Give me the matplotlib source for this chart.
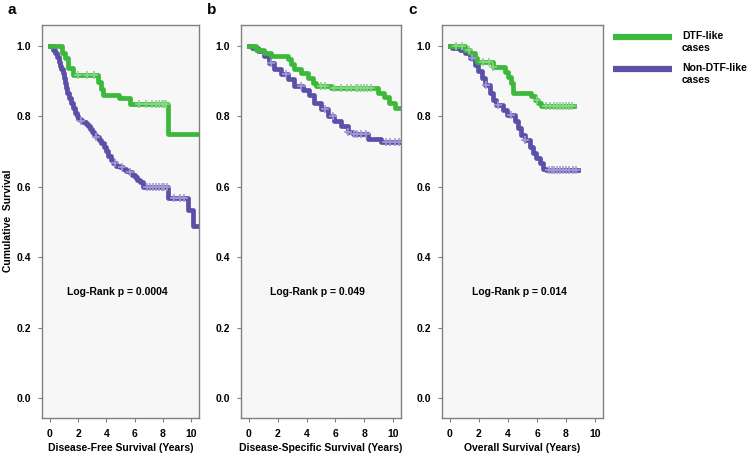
import numpy as np
import matplotlib
matplotlib.use('Agg')
import matplotlib.pyplot as plt
from matplotlib.lines import Line2D

plt.rcParams['font.family'] = ['Liberation Sans', 'DejaVu Sans']
plt.rcParams['font.weight'] = 'bold'

GREEN = '#3cb83a'
PURPLE = '#5a50a8'
GREEN_C = '#8ad48a'
PURPLE_C = '#a29ad4'

# panel a: disease-free survival
a_dtf_t = [0, 0.85, 1.06, 1.3, 1.65, 3.4, 3.62, 3.74, 4.92, 5.7, 8.35, 10.55]
a_dtf_s = [1.0, 0.981, 0.967, 0.939, 0.917, 0.897, 0.878, 0.861, 0.852, 0.836, 0.75, 0.75]
a_dtf_cens = [2.0, 2.6, 3.1, 6.3, 6.8, 7.2, 7.5, 7.7, 7.9, 8.1, 8.25]
a_non_t = [0, 0.26, 0.4, 0.5, 0.62, 0.73, 0.82, 0.9, 0.98, 1.06, 1.15, 1.25, 1.37, 1.49,
           1.63, 1.77, 1.9, 2.0, 2.2, 2.36, 2.55, 2.7, 2.85, 2.95, 3.1, 3.3, 3.45, 3.6,
           3.8, 4.0, 4.15, 4.3, 4.5, 4.7, 4.95, 5.2, 5.4, 5.6, 5.8, 6.0, 6.2, 6.4, 6.6,
           8.35, 9.76, 10.1, 10.55]
a_non_s = [1.0, 0.99, 0.98, 0.97, 0.956, 0.943, 0.934, 0.924, 0.91, 0.896, 0.882, 0.867,
           0.853, 0.839, 0.825, 0.811, 0.80, 0.792, 0.788, 0.785, 0.779, 0.773, 0.764,
           0.755, 0.748, 0.741, 0.733, 0.726, 0.714, 0.703, 0.689, 0.675, 0.667, 0.66,
           0.655, 0.651, 0.646, 0.641, 0.634, 0.627, 0.62, 0.613, 0.599, 0.569, 0.533,
           0.488, 0.488]
a_non_cens = [2.2, 3.3, 4.6, 5.1, 5.7, 6.9, 7.1, 7.3, 7.5, 7.7, 7.9, 8.1, 8.3, 8.8, 9.2, 9.5]

# panel b: disease-specific survival
b_dtf_t = [0, 0.49, 1.06, 1.53, 2.69, 2.92, 3.15, 3.61, 4.07, 4.42, 4.65, 5.69, 8.94,
           9.4, 9.75, 10.1, 10.55]
b_dtf_s = [1.0, 0.99, 0.981, 0.972, 0.962, 0.948, 0.934, 0.924, 0.91, 0.896, 0.887, 0.88,
           0.868, 0.854, 0.839, 0.825, 0.825]
b_dtf_cens = [5.0, 5.3, 5.9, 6.4, 6.8, 7.1, 7.4, 7.6, 7.8, 8.0, 8.2, 8.5]
b_non_t = [0, 0.2, 0.6, 1.06, 1.41, 1.76, 2.22, 2.69, 3.15, 3.73, 4.19, 4.54, 5.0, 5.46,
           5.93, 6.39, 6.85, 7.2, 8.24, 9.17, 10.55]
b_non_s = [1.0, 0.995, 0.986, 0.972, 0.953, 0.934, 0.92, 0.906, 0.887, 0.876, 0.861,
           0.839, 0.82, 0.801, 0.787, 0.773, 0.755, 0.75, 0.736, 0.728, 0.728]
b_non_cens = [1.5, 2.6, 3.6, 5.3, 5.8, 6.9, 7.3, 7.5, 7.8, 8.1, 9.5, 9.8, 10.1, 10.4]

# panel c: overall survival
c_dtf_t = [0, 1.05, 1.4, 1.74, 1.85, 3.0, 3.79, 4.0, 4.2, 4.35, 5.6, 5.85, 6.08, 6.25, 8.58]
c_dtf_s = [1.0, 0.99, 0.98, 0.966, 0.956, 0.941, 0.927, 0.912, 0.895, 0.867, 0.857,
           0.848, 0.838, 0.83, 0.83]
c_dtf_cens = [0.4, 0.8, 1.3, 2.3, 2.7, 3.0, 6.0, 6.6, 6.9, 7.2, 7.4, 7.6, 7.8, 8.0, 8.2, 8.4]
c_non_t = [0, 0.14, 0.71, 1.05, 1.4, 1.74, 1.96, 2.2, 2.42, 2.76, 2.99, 3.2, 3.68, 3.9,
           4.47, 4.7, 4.93, 5.16, 5.5, 5.73, 5.96, 6.19, 6.42, 6.64, 8.8]
c_non_s = [1.0, 0.995, 0.99, 0.98, 0.966, 0.947, 0.928, 0.909, 0.89, 0.867, 0.848, 0.833,
           0.819, 0.805, 0.786, 0.767, 0.748, 0.733, 0.714, 0.695, 0.681, 0.667, 0.652,
           0.647, 0.647]
c_non_cens = [1.5, 2.5, 3.3, 4.2, 5.2, 6.8, 7.0, 7.2, 7.4, 7.6, 7.8, 8.0, 8.2, 8.5, 8.7]

panel_letters = ['a', 'b', 'c']
xlabels = ['Disease-Free Survival (Years)', 'Disease-Specific Survival (Years)',
           'Overall Survival (Years)']
pvals = ['Log-Rank p = 0.0004', 'Log-Rank p = 0.049', 'Log-Rank p = 0.014']
legend_labels = ['DTF-like\ncases', 'Non-DTF-like\ncases']

panels = [
    (a_dtf_t, a_dtf_s, a_dtf_cens, a_non_t, a_non_s, a_non_cens),
    (b_dtf_t, b_dtf_s, b_dtf_cens, b_non_t, b_non_s, b_non_cens),
    (c_dtf_t, c_dtf_s, c_dtf_cens, c_non_t, c_non_s, c_non_cens),
]


def censor_y(t, s, cens):
    idx = np.searchsorted(t, cens, side='right') - 1
    return np.array(s)[idx]


def draw_curve(ax, t, s, cens, color, ccolor):
    ax.plot(cens, censor_y(t, s, cens), linestyle='none', marker='+', ms=6, mew=1.2,
            color=ccolor, zorder=3)
    ax.step(t, s, where='post', color=color, lw=3.4, zorder=2)


fig = plt.figure(figsize=(7.5, 4.57), dpi=100)
W, H = 750, 457
lefts = [42, 241, 442]
widths = [157, 160, 161]
top, bottom = 25, 418
FS = 7.5

for i, (dt, ds, dc, nt, ns, nc) in enumerate(panels):
    ax = fig.add_axes([lefts[i] / W, 1 - bottom / H, widths[i] / W, (bottom - top) / H])
    ax.set_facecolor('#f7f7f7')
    draw_curve(ax, nt, ns, nc, PURPLE, PURPLE_C)
    draw_curve(ax, dt, ds, dc, GREEN, GREEN_C)
    ax.set_xlim(-0.55, 10.55)
    ax.set_ylim(-0.057, 1.06)
    ax.set_xticks(range(0, 11, 2))
    ax.set_yticks([0.0, 0.2, 0.4, 0.6, 0.8, 1.0])
    ax.set_yticklabels(['0.0', '0.2', '0.4', '0.6', '0.8', '1.0'])
    ax.tick_params(labelsize=FS, length=3, width=0.8, color='#808080', pad=5)
    for sp in ax.spines.values():
        sp.set_color('#808080')
        sp.set_linewidth(1.0)
    ax.set_xlabel(xlabels[i], fontsize=FS, fontweight='bold', labelpad=3)
    ax.text(0.48, 0.32, pvals[i], transform=ax.transAxes, ha='center', va='center',
            fontsize=FS, fontweight='bold')
    fig.text((lefts[i] - 34) / W, 1 - 10 / H, panel_letters[i], fontsize=11,
             fontweight='bold', ha='left', va='center')

fig.text(8 / W, 1 - 221 / H, 'Cumulative  Survival', rotation=90, fontsize=FS,
         fontweight='bold', ha='center', va='center')

# legend drawn by hand so each line sits next to the first text row
colors = [GREEN, PURPLE]
for k, lab in enumerate(legend_labels):
    y = 1 - (37 + 32 * k) / H
    fig.add_artist(Line2D([613 / W, 672 / W], [y, y], color=colors[k], lw=4.5,
                          solid_capstyle='butt'))
    fig.text(682 / W, 1 - (31 + 32 * k) / H, lab, fontsize=FS, fontweight='bold',
             ha='left', va='top', linespacing=1.2)

fig.savefig('out.png', dpi=100)
